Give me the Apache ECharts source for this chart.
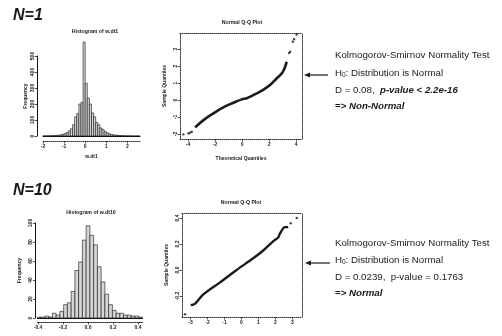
<!DOCTYPE html>
<html>
<head>
<meta charset="utf-8">
<script src="https://cdn.jsdelivr.net/npm/echarts@6/dist/echarts.min.js"></script>
<style>html,body{margin:0;padding:0;background:#fff;}#c{width:502px;height:336px;}</style>
</head>
<body>
<div id="c"></div>
<script>
// ---------- data ----------
// N=1 histogram: bin lower edges (width 0.1) and counts
const hist1Width = 0.1;
const hist1Lo = [-2.0,-1.9,-1.8,-1.7,-1.6,-1.5,-1.4,-1.3,-1.2,-1.1,-1.0,-0.9,-0.8,-0.7,-0.6,-0.5,-0.4,-0.3,-0.2,-0.1,
                 0.0,0.1,0.2,0.3,0.4,0.5,0.6,0.7,0.8,0.9,1.0,1.1,1.2,1.3,1.4,1.5,1.6,1.7,1.8,1.9,2.0,2.1,2.2,2.3,2.4,2.5];
const hist1Counts = [1,1,1,2,2,3,4,5,7,10,15,22,32,45,70,120,140,200,210,587,
                     330,237,200,144,120,85,70,50,40,28,20,14,10,7,5,4,3,2,2,1,1,1,1,0,1,0];
const hist1XTicks = [-2,-1,0,1,2];

// N=1 normal Q-Q plot (theoretical, sample)
const qq1Line = [[-3.48,-1.61],[-2.86,-1.18],[-2.12,-0.78],[-1.39,-0.43],[-0.64,-0.16],[-0.02,0.04],[0.35,0.11],
                 [0.84,0.29],[1.46,0.55],[2.07,0.88],[2.57,1.28],[2.94,1.57],[3.12,1.82],[3.19,1.96],[3.31,2.25]];
const qq1Sparse = [[-4.35,-2.02],[-3.98,-1.96],[-3.85,-1.92],[-3.73,-1.86],[3.48,2.76],[3.56,2.84],[3.76,3.43],[3.85,3.57],[4.04,3.85]];
const qq1XTicks = [-4,-2,0,2,4];
const qq1YTicks = [-2,-1,0,1,2,3];

// N=10 histogram: bin lower edges (width 0.03) and counts
const hist2Width = 0.03;
const hist2Lo = [-0.405,-0.375,-0.345,-0.315,-0.285,-0.255,-0.225,-0.195,-0.165,-0.135,-0.105,-0.075,-0.045,-0.015,
                 0.015,0.045,0.075,0.105,0.135,0.165,0.195,0.225,0.255,0.285,0.315,0.345,0.375,0.405];
const hist2Counts = [1,1,2,1,5,3,7,14,16,28,50,59,82,97,87,77,54,38,25,14,8,5,5,3,3,2,2,1];
const hist2XTicks = [-0.4,-0.2,0.0,0.2,0.4];

// N=10 normal Q-Q plot
const qq2Line = [[-2.99,-0.27],[-2.74,-0.26],[-2.26,-0.19],[-1.26,-0.095],[-0.29,0.0],[0.69,0.09],[1.28,0.15],
                 [1.86,0.22],[2.16,0.25],[2.26,0.28],[2.56,0.33],[2.75,0.33]];
const qq2Sparse = [[-3.32,-0.34],[2.9,0.36],[3.25,0.40]];
const qq2XTicks = [-3,-2,-1,0,1,2,3];
const qq2YTicks = [-0.2,0.0,0.2,0.4];

// ---------- chart ----------
const FONT = 'Liberation Sans, Arial, Helvetica, sans-serif';
const INK = '#1a1a1a';
const tiny = {fontSize: 5, fontWeight: 'bold', color: INK, fontFamily: FONT};

function bins(lo, w, counts) { return lo.map((l, i) => [l, l + w, counts[i]]); }

function histItem(params, api) {
  const p0 = api.coord([api.value(0), 0]);
  const p1 = api.coord([api.value(1), api.value(2)]);
  return {type: 'rect',
    shape: {x: p0[0], y: p1[1], width: p1[0] - p0[0], height: p0[1] - p1[1]},
    style: {fill: '#d6d6d6', stroke: '#111', lineWidth: 0.6}};
}

const hidden = {axisTick: {show: false}, axisLabel: {show: false}, splitLine: {show: false}};
const dotted = {show: true, onZero: false, lineStyle: {color: '#333', width: 1, type: [1, 1]}};
const solid = {show: true, onZero: false, lineStyle: {color: '#111', width: 1}};
function ticks(vals) { return {show: true, length: 2.5, customValues: vals, lineStyle: {color: '#222', width: 0.8}}; }
function labels(vals, extra) { return Object.assign({show: true, customValues: vals, margin: 3}, tiny, extra || {}); }

const option = {
  animation: false,
  backgroundColor: '#fff',
  grid: [
    {left: 43, top: 56, width: 97, height: 80},      // hist N=1
    {left: 180, top: 33, width: 122, height: 106},   // QQ N=1
    {left: 37.4, top: 223, width: 105, height: 95},  // hist N=10
    {left: 182, top: 213, width: 120, height: 104}   // QQ N=10
  ],
  xAxis: [
    Object.assign({gridIndex: 0, type: 'value', position: 'bottom', min: -2, max: 2.6, axisLine: solid}, hidden),
    {gridIndex: 0, type: 'value', position: 'bottom', min: -2, max: 2.6, offset: 5, axisLine: dotted,
     axisTick: ticks(hist1XTicks), axisLabel: labels(hist1XTicks), splitLine: {show: false},
     name: 'w.dt1', nameLocation: 'middle', nameGap: 13, nameTextStyle: tiny},
    {gridIndex: 1, type: 'value', position: 'bottom', min: -4.6, max: 4.44, axisLine: dotted,
     axisTick: ticks(qq1XTicks), axisLabel: labels(qq1XTicks), splitLine: {show: false},
     name: 'Theoretical Quantiles', nameLocation: 'middle', nameGap: 17, nameTextStyle: tiny},
    Object.assign({gridIndex: 1, type: 'value', position: 'top', min: -4.6, max: 4.44, axisLine: dotted}, hidden),
    Object.assign({gridIndex: 2, type: 'value', position: 'bottom', min: -0.405, max: 0.435, axisLine: solid}, hidden),
    {gridIndex: 2, type: 'value', position: 'bottom', min: -0.405, max: 0.435, offset: 4, axisLine: dotted,
     axisTick: ticks(hist2XTicks), axisLabel: labels(hist2XTicks, {formatter: v => v.toFixed(1)}), splitLine: {show: false}},
    {gridIndex: 3, type: 'value', position: 'bottom', min: -3.5, max: 3.56, axisLine: dotted,
     axisTick: ticks(qq2XTicks), axisLabel: labels(qq2XTicks), splitLine: {show: false}},
    Object.assign({gridIndex: 3, type: 'value', position: 'top', min: -3.5, max: 3.56, axisLine: dotted}, hidden)
  ],
  yAxis: [
    {gridIndex: 0, type: 'value', position: 'left', min: 0, max: 500, interval: 100, offset: 6, axisLine: solid,
     axisTick: {show: true, length: 2.5, lineStyle: {color: '#222', width: 0.8}},
     axisLabel: Object.assign({show: true, rotate: 90, margin: 2}, tiny), splitLine: {show: false},
     name: 'Frequency', nameLocation: 'middle', nameGap: 9, nameRotate: 90, nameTextStyle: tiny},
    {gridIndex: 1, type: 'value', position: 'left', min: -2.29, max: 3.94, axisLine: dotted,
     axisTick: ticks(qq1YTicks), axisLabel: labels(qq1YTicks, {rotate: 90, margin: 2}), splitLine: {show: false},
     name: 'Sample Quantiles', nameLocation: 'middle', nameGap: 13, nameRotate: 90, nameTextStyle: tiny},
    Object.assign({gridIndex: 1, type: 'value', position: 'right', min: -2.29, max: 3.94, axisLine: dotted}, hidden),
    {gridIndex: 2, type: 'value', position: 'left', min: 0, max: 100, interval: 20, offset: 2, axisLine: solid,
     axisTick: {show: true, length: 2.5, lineStyle: {color: '#222', width: 0.8}},
     axisLabel: Object.assign({show: true, rotate: 90, margin: 2}, tiny), splitLine: {show: false},
     name: 'Frequency', nameLocation: 'middle', nameGap: 13, nameRotate: 90, nameTextStyle: tiny},
    {gridIndex: 3, type: 'value', position: 'left', min: -0.3615, max: 0.4385, axisLine: dotted,
     axisTick: ticks(qq2YTicks), axisLabel: labels(qq2YTicks, {rotate: 90, margin: 2, formatter: v => v.toFixed(1)}),
     splitLine: {show: false},
     name: 'Sample Quantiles', nameLocation: 'middle', nameGap: 13, nameRotate: 90, nameTextStyle: tiny},
    Object.assign({gridIndex: 3, type: 'value', position: 'right', min: -0.3615, max: 0.4385, axisLine: dotted}, hidden)
  ],
  series: [
    {type: 'custom', xAxisIndex: 0, yAxisIndex: 0, clip: false, renderItem: histItem,
     encode: {x: [0, 1], y: 2}, data: bins(hist1Lo, hist1Width, hist1Counts)},
    {type: 'line', xAxisIndex: 2, yAxisIndex: 1, smooth: 0.4, symbol: 'none',
     lineStyle: {color: INK, width: 2.6}, data: qq1Line},
    {type: 'scatter', xAxisIndex: 2, yAxisIndex: 1, symbolSize: 2.4,
     itemStyle: {color: INK}, data: qq1Sparse},
    {type: 'custom', xAxisIndex: 4, yAxisIndex: 3, clip: false, renderItem: histItem,
     encode: {x: [0, 1], y: 2}, data: bins(hist2Lo, hist2Width, hist2Counts)},
    {type: 'line', xAxisIndex: 6, yAxisIndex: 4, smooth: 0.3, symbol: 'none',
     lineStyle: {color: INK, width: 2.4}, data: qq2Line},
    {type: 'scatter', xAxisIndex: 6, yAxisIndex: 4, symbolSize: 2.4,
     itemStyle: {color: INK}, data: qq2Sparse}
  ],
  graphic: []
};

function txt(x, y, text, o) {
  return {type: 'text', x: x, y: y, silent: true,
    style: Object.assign({text: text, fontFamily: FONT, fontSize: 9.7, fill: INK,
      align: 'left', verticalAlign: 'middle'}, o || {})};
}
function arrow(x0, x1, y) {
  return [
    {type: 'line', silent: true, shape: {x1: x0, y1: y, x2: x1 + 4, y2: y}, style: {stroke: INK, lineWidth: 1.2}},
    {type: 'polygon', silent: true, shape: {points: [[x1, y], [x1 + 6, y - 2.6], [x1 + 6, y + 2.6]]}, style: {fill: INK}}
  ];
}
const rich = {
  r: {fontFamily: FONT, fontSize: 9.7, fill: INK},
  b: {fontFamily: FONT, fontSize: 9.7, fill: INK, fontWeight: 'bold'},
  bi: {fontFamily: FONT, fontSize: 9.7, fill: INK, fontWeight: 'bold', fontStyle: 'italic'},
  sub: {fontFamily: FONT, fontSize: 6.5, fill: INK, padding: [5, 0, 0, 0]}
};
const g = option.graphic;
g.push(txt(13, 16, 'N=1', {fontSize: 16, fontWeight: 'bold', fontStyle: 'italic'}));
g.push(txt(13, 191, 'N=10', {fontSize: 16, fontWeight: 'bold', fontStyle: 'italic'}));
g.push(txt(95, 32, 'Histogram of w.dt1', {fontSize: 5.2, fontWeight: 'bold', align: 'center'}));
g.push(txt(242, 23, 'Normal Q-Q Plot', {fontSize: 5.2, fontWeight: 'bold', align: 'center'}));
g.push(txt(91, 213, 'Histogram of w.dt10', {fontSize: 5.2, fontWeight: 'bold', align: 'center'}));
g.push(txt(241, 203, 'Normal Q-Q Plot', {fontSize: 5.2, fontWeight: 'bold', align: 'center'}));

g.push(txt(335, 55, 'Kolmogorov-Smirnov Normality Test'));
g.push(txt(335, 73, '{r|H}{sub|0}{r|: Distribution is Normal}', {rich: rich}));
g.push(txt(335, 90, '{r|D = 0.08,  }{bi|p-value < 2.2e-16}', {rich: rich}));
g.push(txt(335, 106, '{b|=> }{bi|Non-Normal}', {rich: rich}));
arrow(328, 304, 75).forEach(e => g.push(e));

g.push(txt(335, 243, 'Kolmogorov-Smirnov Normality Test'));
g.push(txt(335, 260, '{r|H}{sub|0}{r|: Distribution is Normal}', {rich: rich}));
g.push(txt(335, 277, '{r|D = 0.0239,  p-value = 0.1763}', {rich: rich}));
g.push(txt(335, 293, '{b|=> }{bi|Normal}', {rich: rich}));
arrow(330, 305, 263).forEach(e => g.push(e));

const chart = echarts.init(document.getElementById('c'), null, {renderer: 'canvas'});
chart.setOption(option);
</script>
</body>
</html>
